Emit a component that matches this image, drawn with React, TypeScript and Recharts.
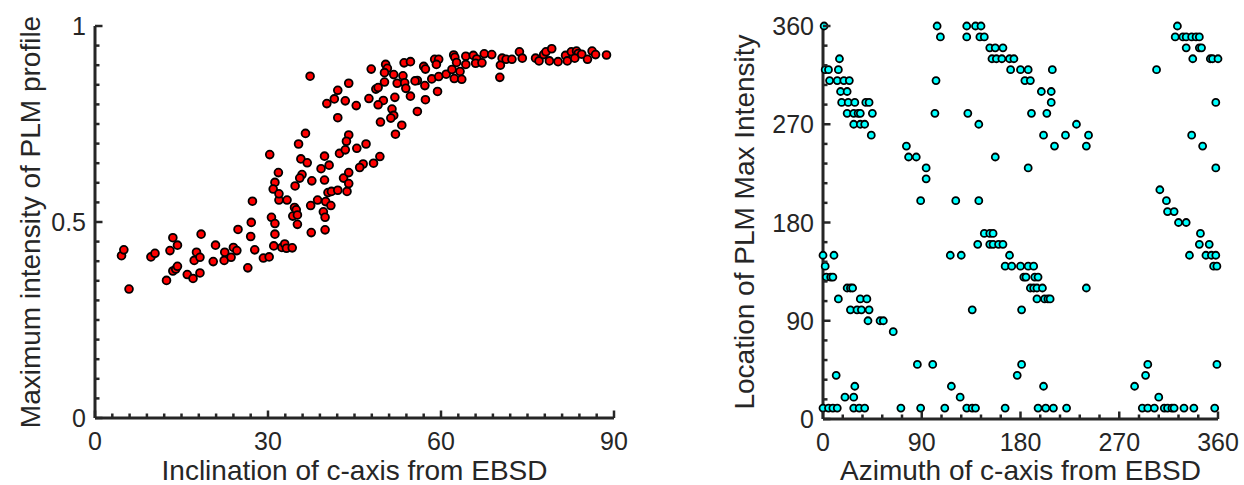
import React from 'react';
import { ScatterChart, Scatter, XAxis, YAxis } from 'recharts';

// left panel: inclination vs max intensity
const inclination = [
  4.6, 5.0, 5.9, 9.7, 10.4, 12.4, 13.0, 13.5, 13.5, 14.0, 14.3, 14.3, 16.0, 17.0, 17.2, 17.6, 18.2, 18.2, 18.4,
  20.5, 20.9, 22.4, 22.5, 23.6, 24.0, 24.6, 24.8, 26.5, 27.0, 27.1, 27.3, 27.7, 29.2, 30.2, 30.6, 31.0, 31.2,
  31.2, 31.9, 32.4, 32.9, 33.2, 33.3, 34.2, 34.3, 34.6, 34.9, 35.1, 35.1, 37.4, 37.5, 38.6, 39.6, 39.9, 39.9,
  40.0, 40.9,
  37.3, 44.0, 42.1, 41.5, 40.2, 43.4, 42.1, 36.5, 35.3, 30.3, 44.0, 43.6, 42.4, 43.4, 39.8, 40.6, 39.2, 35.7,
  36.8, 31.8, 35.9, 35.5, 39.8, 37.6, 43.1, 44.0, 31.2, 30.9, 34.7, 31.9, 40.4, 41.0, 42.1, 43.7, 44.0,
  47.9, 50.4, 50.7, 50.2, 53.6, 54.7, 57.0, 57.3, 58.9, 59.6, 59.2, 62.2, 62.4, 62.7, 64.3, 64.3, 65.6, 66.2,
  66.0, 67.1, 67.5, 68.8, 70.6, 70.3, 71.3, 72.3, 70.2, 73.6, 74.1, 76.4, 77.0, 77.8, 78.2, 79.2, 78.8, 80.3,
  81.6, 81.9, 82.6, 83.5, 83.8, 83.2, 84.4, 85.4, 86.2, 86.8, 88.7,
  45.3, 47.5, 48.7, 49.1, 50.2, 51.8, 53.4, 52.4, 53.7, 53.9, 55.9, 55.5, 54.7, 52.0, 50.0, 49.1, 57.3, 57.2,
  58.4, 59.6, 60.9, 61.9, 63.3, 62.3, 63.6, 59.4, 51.5, 51.8, 51.3, 55.9, 49.5, 53.2, 52.1, 45.4, 47.0, 49.4,
  48.3, 46.5, 45.9,
];
const maxIntensity = [
  0.414, 0.429, 0.329, 0.411, 0.42, 0.351, 0.427, 0.46, 0.375, 0.38, 0.387, 0.441, 0.366, 0.356, 0.402, 0.423,
  0.41, 0.37, 0.469, 0.399, 0.441, 0.402, 0.423, 0.41, 0.435, 0.427, 0.481, 0.383, 0.463, 0.499, 0.553, 0.429,
  0.408, 0.411, 0.512, 0.439, 0.496, 0.469, 0.556, 0.435, 0.444, 0.433, 0.556, 0.434, 0.515, 0.537, 0.531,
  0.518, 0.494, 0.542, 0.473, 0.556, 0.526, 0.512, 0.48, 0.552, 0.542,
  0.872, 0.854, 0.836, 0.814, 0.802, 0.809, 0.766, 0.726, 0.699, 0.672, 0.722, 0.706, 0.675, 0.684, 0.668,
  0.645, 0.636, 0.661, 0.651, 0.626, 0.621, 0.612, 0.607, 0.605, 0.612, 0.626, 0.601, 0.584, 0.592, 0.572,
  0.575, 0.578, 0.581, 0.578, 0.598,
  0.89, 0.902, 0.892, 0.881, 0.906, 0.909, 0.897, 0.89, 0.915, 0.915, 0.902, 0.926, 0.92, 0.907, 0.923, 0.902,
  0.925, 0.916, 0.905, 0.906, 0.929, 0.927, 0.918, 0.9, 0.915, 0.915, 0.869, 0.934, 0.918, 0.918, 0.911, 0.927,
  0.934, 0.942, 0.911, 0.909, 0.925, 0.911, 0.934, 0.936, 0.93, 0.918, 0.928, 0.915, 0.936, 0.927, 0.926,
  0.797, 0.815, 0.839, 0.843, 0.857, 0.876, 0.873, 0.854, 0.855, 0.841, 0.861, 0.86, 0.821, 0.818, 0.81, 0.799,
  0.812, 0.848, 0.865, 0.871, 0.877, 0.889, 0.884, 0.866, 0.864, 0.833, 0.788, 0.772, 0.765, 0.782, 0.755,
  0.747, 0.724, 0.688, 0.699, 0.667, 0.65, 0.648, 0.639,
];

// right panel: azimuth grouped by location of max intensity
const locationRows = [
  360, 350, 340, 330, 320, 310, 300, 290, 280, 270, 260, 250, 240, 230, 220, 210, 200, 190, 180, 170, 160, 150,
  140, 130, 120, 110, 100, 90, 80, 50, 40, 30, 20, 10,
];
const azimuthByRow = [
  [1, 104, 131, 139, 144, 323],
  [107, 131, 143, 147, 321, 328, 331, 336, 340, 343],
  [152, 157, 164, 331, 343, 345],
  [15, 154, 158, 163, 170, 174, 337, 353, 355, 360],
  [2, 5, 14, 171, 180, 187, 209, 304],
  [6, 13, 19, 24, 103, 184, 189],
  [16, 22, 199, 208],
  [17, 23, 29, 39, 42, 208, 358],
  [22, 28, 32, 34, 45, 102, 132, 190, 204],
  [28, 34, 38, 142, 231],
  [44, 201, 221, 242, 336],
  [76, 211, 240, 346],
  [78, 85, 157],
  [94, 187, 358],
  [94],
  [307],
  [89, 121, 142, 313],
  [314, 320],
  [324, 331],
  [147, 152, 155, 344],
  [141, 152, 155, 160, 164, 343, 352],
  [0, 10, 116, 126, 170, 334, 349, 354, 358],
  [2, 166, 172, 180, 187, 192, 356, 359],
  [3, 7, 9, 183, 185, 193, 196],
  [22, 25, 27, 189, 192, 195, 200, 240],
  [14, 34, 40, 195, 202, 205, 207],
  [25, 31, 35, 42, 136, 181],
  [41, 52, 55],
  [64],
  [86, 100, 181, 296, 359],
  [12, 177, 294],
  [29, 117, 201, 284],
  [20, 28, 125, 306],
  [0, 5, 9, 13, 28, 33, 38, 71, 89, 111, 131, 136, 139, 166, 196, 203, 210, 222, 291, 296, 302, 311, 314, 318,
    320, 329, 338, 357],
];

const leftXTicks = Array.from({ length: 31 }, (_, i) => i * 3);
const leftYTicks = Array.from({ length: 21 }, (_, i) => +(i * 0.05).toFixed(2));
const angleTicks = Array.from({ length: 21 }, (_, i) => i * 18);
const leftXMajor = [0, 30, 60, 90];
const leftYMajor = [0, 0.5, 1];
const angleMajor = [0, 90, 180, 270, 360];

const redPoints = inclination.map((x, i) => ({ x, y: maxIntensity[i] }));
const cyanPoints = locationRows.flatMap((loc, r) => azimuthByRow[r].map((az) => ({ x: az, y: loc })));

const INK = '#262626';
const FONT = '"Liberation Sans", Arial, Helvetica, sans-serif';

const isMajor = (v: number, majors: number[]) => majors.some((m) => Math.abs(m - v) < 1e-6);

const xTick = (majors: number[]) => (props: any) => {
  const { x, y, payload } = props;
  const major = isMajor(payload.value, majors);
  return (
    <g>
      <line x1={x} x2={x} y1={y} y2={y - (major ? 7.5 : 4.5)} stroke={INK} strokeWidth={2.5} />
      {major && (
        <text x={x} y={y + 32} textAnchor="middle" fontSize={25} fill={INK} fontFamily={FONT}>
          {String(payload.value)}
        </text>
      )}
    </g>
  );
};

const yTick = (majors: number[]) => (props: any) => {
  const { x, y, payload } = props;
  const major = isMajor(payload.value, majors);
  return (
    <g>
      <line x1={x} x2={x + (major ? 7.5 : 4.5)} y1={y} y2={y} stroke={INK} strokeWidth={2.5} />
      {major && (
        <text x={x - 9} y={y + 9} textAnchor="end" fontSize={25} fill={INK} fontFamily={FONT}>
          {String(payload.value)}
        </text>
      )}
    </g>
  );
};

const xTitle = (text: string, cx: number) => () => (
  <text x={cx} y={480} textAnchor="middle" fontSize={28} fill={INK} fontFamily={FONT}>
    {text}
  </text>
);

const yTitle = (text: string, bx: number) => () => (
  <text
    x={bx}
    y={222}
    transform={`rotate(-90, ${bx}, 222)`}
    textAnchor="middle"
    fontSize={28}
    fill={INK}
    fontFamily={FONT}
  >
    {text}
  </text>
);

const dot = (fill: string, r: number) => (p: any) => (
  <circle cx={p.cx} cy={p.cy} r={r} fill={fill} stroke="#000" strokeWidth={1.8} />
);

const axisLine = { stroke: INK, strokeWidth: 3 };

export default function App() {
  return (
    <div style={{ position: 'absolute', left: 0, top: 0, width: 1244, height: 485, background: '#fff' }}>
      <div style={{ position: 'absolute', left: 0, top: 0 }}>
        <ScatterChart width={640} height={485} margin={{ top: 26, right: 26, bottom: 0, left: 0 }}>
          <XAxis
            type="number"
            dataKey="x"
            domain={[0, 90]}
            ticks={leftXTicks}
            interval={0}
            height={67}
            tickSize={0}
            tickMargin={0}
            tickLine={false}
            axisLine={axisLine}
            tick={xTick(leftXMajor)}
            label={xTitle('Inclination of c-axis from EBSD', 354.5)}
          />
          <YAxis
            type="number"
            dataKey="y"
            domain={[0, 1]}
            ticks={leftYTicks}
            interval={0}
            width={95}
            tickSize={0}
            tickMargin={0}
            tickLine={false}
            axisLine={axisLine}
            tick={yTick(leftYMajor)}
            label={yTitle('Maximum intensity of PLM profile', 40)}
          />
          <Scatter data={redPoints} shape={dot('#ff0000', 3.9)} isAnimationActive={false} />
        </ScatterChart>
      </div>
      <div style={{ position: 'absolute', left: 700, top: 0 }}>
        <ScatterChart width={544} height={485} margin={{ top: 26, right: 26, bottom: 0, left: 0 }}>
          <XAxis
            type="number"
            dataKey="x"
            domain={[0, 360]}
            ticks={angleTicks}
            interval={0}
            height={66}
            tickSize={0}
            tickMargin={0}
            tickLine={false}
            axisLine={axisLine}
            tick={xTick(angleMajor)}
            label={xTitle('Azimuth of c-axis from EBSD', 320.5)}
          />
          <YAxis
            type="number"
            dataKey="y"
            domain={[0, 360]}
            ticks={angleTicks}
            interval={0}
            width={123}
            tickSize={0}
            tickMargin={0}
            tickLine={false}
            axisLine={axisLine}
            tick={yTick(angleMajor)}
            label={yTitle('Location of PLM Max Intensity', 54)}
          />
          <Scatter data={cyanPoints} shape={dot('#00ffff', 3.5)} isAnimationActive={false} />
        </ScatterChart>
      </div>
    </div>
  );
}
